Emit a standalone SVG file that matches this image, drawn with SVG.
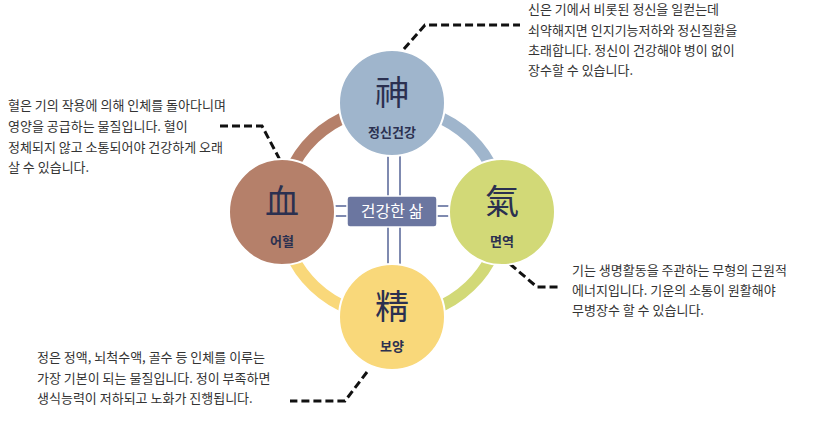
<svg xmlns="http://www.w3.org/2000/svg" width="815" height="425" viewBox="0 0 815 425">
<style>
.t{font-family:"Noto Sans CJK KR","Noto Sans",sans-serif;font-size:13px;fill:#333}
.h{font-family:"Noto Sans CJK KR",sans-serif;font-size:34px;fill:#2b3050;text-anchor:middle}
.l{font-family:"Noto Sans CJK KR",sans-serif;font-size:13px;font-weight:bold;fill:#2b3050;text-anchor:middle}
.d{fill:none;stroke:#111;stroke-width:3;stroke-dasharray:8,4}
.p{stroke:#7f8ab0;stroke-width:2}
</style>
<rect width="815" height="425" fill="#fff"/>
<g id="ring" fill="none" stroke-width="12">
<path d="M282,212 A110,105 0 0 1 392,107" stroke="#b5806a"/>
<path d="M392,107 A110,105 0 0 1 502,212" stroke="#9fb5cc"/>
<path d="M502,212 A110,105 0 0 1 392,317" stroke="#d2d977"/>
<path d="M392,317 A110,105 0 0 1 282,212" stroke="#f9d87a"/>
</g>
<g id="connectors">
<line class="p" x1="388" y1="155" x2="388" y2="196"/><line class="p" x1="400" y1="155" x2="400" y2="196"/>
<line class="p" x1="388" y1="227" x2="388" y2="265"/><line class="p" x1="400" y1="227" x2="400" y2="265"/>
<line class="p" x1="334" y1="206" x2="347" y2="206"/><line class="p" x1="334" y1="216" x2="347" y2="216"/>
<line class="p" x1="437" y1="206" x2="450" y2="206"/><line class="p" x1="437" y1="216" x2="450" y2="216"/>
<polyline class="d" points="396,58 425,25 520,25"/>
<polyline class="d" points="220,126 262,126 280,160"/>
<polyline class="d" points="510,264 537,287 560,287"/>
<polyline class="d" points="367,372 345,401 290,401"/>
</g>
<g id="center"><rect x="347" y="196" width="90" height="31" rx="3" fill="#6b76a0" stroke="#fff" stroke-width="1.5"/><text x="392" y="217" text-anchor="middle" style="font-family:'Noto Sans CJK KR',sans-serif;font-size:16px;fill:#fff">건강한 삶</text></g>
<g id="shin"><circle cx="392" cy="103" r="53" fill="#9fb5cc" stroke="#fff" stroke-width="2"/><text class="h" x="392" y="105">神</text><text class="l" x="392" y="137">정신건강</text></g>
<g id="hyeol"><circle cx="282" cy="212" r="53" fill="#b5806a" stroke="#fff" stroke-width="2"/><text class="h" x="282" y="214">血</text><text class="l" x="282" y="246">어혈</text></g>
<g id="gi"><circle cx="502" cy="212" r="53" fill="#d2d977" stroke="#fff" stroke-width="2"/><text class="h" x="502" y="214">氣</text><text class="l" x="502" y="246">면역</text></g>
<g id="jeong"><circle cx="392" cy="317" r="53" fill="#f9d87a" stroke="#fff" stroke-width="2"/><text class="h" x="392" y="319">精</text><text class="l" x="392" y="351">보양</text></g>
<g id="texts" class="t">
<text x="528" y="14">신은 기에서 비롯된 정신을 일컫는데</text>
<text x="528" y="35">쇠약해지면 인지기능저하와 정신질환을</text>
<text x="528" y="55">초래합니다. 정신이 건강해야 병이 없이</text>
<text x="528" y="75">장수할 수 있습니다.</text>
<text x="8" y="110">혈은 기의 작용에 의해 인체를 돌아다니며</text>
<text x="8" y="131">영양을 공급하는 물질입니다. 혈이</text>
<text x="8" y="152">정체되지 않고 소통되어야 건강하게 오래</text>
<text x="8" y="172">살 수 있습니다.</text>
<text x="572" y="275">기는 생명활동을 주관하는 무형의 근원적</text>
<text x="572" y="295">에너지입니다. 기운의 소통이 원활해야</text>
<text x="572" y="315">무병장수 할 수 있습니다.</text>
<text x="37" y="362">정은 정액, 뇌척수액, 골수 등 인체를 이루는</text>
<text x="37" y="383">가장 기본이 되는 물질입니다. 정이 부족하면</text>
<text x="37" y="403">생식능력이 저하되고 노화가 진행됩니다.</text>
</g>
</svg>
